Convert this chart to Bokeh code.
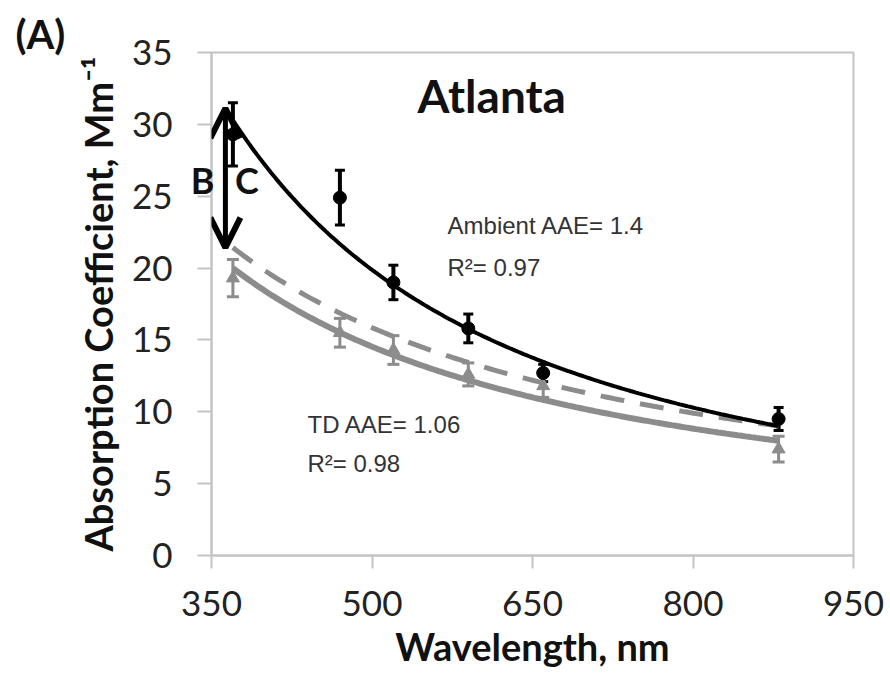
import numpy as np
from bokeh.plotting import figure
from bokeh.models import (Range1d, FixedTicker, Whisker, TeeHead, ColumnDataSource,
                          Label, Arrow, OpenHead)
from bokeh.embed import file_html
from bokeh.resources import INLINE

# ---- data ----
wavelength = [370, 470, 520, 590, 660, 880]
ambient = [29.3, 24.9, 19.0, 15.8, 12.7, 9.5]
ambient_err = [2.2, 1.9, 1.2, 1.0, 0.6, 0.8]
td = [19.3, 15.5, 14.3, 12.6, 11.8, 7.4]
td_err = [1.3, 1.0, 1.0, 0.8, 0.8, 0.9]

ambient_aae = 1.4      # power-law fit  b = b370 * (lam/370)^-AAE
ambient_b370 = 30.3
td_aae = 1.06
td_b370 = 20.0
bc_aae = 1.0           # dashed: AAE = 1 extrapolated from ambient fit at 880 nm

x_ticks = [350, 500, 650, 800, 950]
y_ticks = [0, 5, 10, 15, 20, 25, 30, 35]

BLACK = "#000000"
GREY = "#8c8c8c"
FRAME = "#c4c4c4"
TICK_FONT = "Lato"
TEXT_FONT = "Liberation Sans"

p = figure(width=890, height=674, output_backend="svg", toolbar_location=None,
           x_range=Range1d(350, 950), y_range=Range1d(0, 35),
           min_border_left=211, min_border_right=37, min_border_top=52,
           min_border_bottom=119)
p.background_fill_color = "white"
p.border_fill_color = "white"
p.outline_line_color = FRAME
p.outline_line_width = 2
p.xgrid.visible = False
p.ygrid.visible = False

# panel tag "(A)" as the plot title, shifted to the left edge
p.title.text = "(A)"
p.title.align = "left"
p.title.offset = -196
p.title.standoff = -10
p.title.text_font = TICK_FONT
p.title.text_font_size = "40px"
p.title.text_font_style = "bold"
p.title.text_color = "#111111"

for ax in (p.xaxis[0], p.yaxis[0]):
    ax.axis_line_color = FRAME
    ax.axis_line_width = 2
    ax.major_tick_line_color = FRAME
    ax.major_tick_line_width = 2
    ax.major_tick_in = 0
    ax.minor_tick_line_color = None
    ax.major_label_text_font = TICK_FONT
    ax.major_label_text_font_size = "35px"
    ax.major_label_text_color = "#222222"
    ax.axis_label_text_font = TICK_FONT
    ax.axis_label_text_font_style = "bold"
    ax.axis_label_text_font_size = "38px"
    ax.axis_label_text_color = "#111111"

p.xaxis.ticker = FixedTicker(ticks=x_ticks)
p.yaxis.ticker = FixedTicker(ticks=y_ticks)
p.xaxis.major_tick_out = 13
p.yaxis.major_tick_out = 14
p.xaxis.major_label_standoff = 22
p.yaxis.major_label_standoff = 25
p.xaxis.axis_label = "Wavelength, nm"
p.yaxis.axis_label = "Absorption Coefficient, Mm\u207b\u00b9"
p.xaxis.axis_label_standoff = 4
p.yaxis.axis_label_standoff = 8

# ---- fitted power-law curves ----
lam = np.linspace(min(wavelength), max(wavelength), 200)
amb_fit = ambient_b370 * (lam / 370.0) ** (-ambient_aae)
td_fit = td_b370 * (lam / 370.0) ** (-td_aae)
amb_880 = ambient_b370 * (880 / 370.0) ** (-ambient_aae)
bc_fit = amb_880 * (lam / 880.0) ** (-bc_aae)

p.line(lam, td_fit, line_color=GREY, line_width=6)
p.line(lam, bc_fit, line_color=GREY, line_width=5, line_dash="24 16")
p.line(lam, amb_fit, line_color=BLACK, line_width=4)

# ---- error bars and points ----
src_amb = ColumnDataSource(dict(x=wavelength, y=ambient,
                                lo=[v - e for v, e in zip(ambient, ambient_err)],
                                hi=[v + e for v, e in zip(ambient, ambient_err)]))
src_td = ColumnDataSource(dict(x=wavelength, y=td,
                               lo=[v - e for v, e in zip(td, td_err)],
                               hi=[v + e for v, e in zip(td, td_err)]))

p.add_layout(Whisker(source=src_td, base="x", lower="lo", upper="hi",
                     line_color=GREY, line_width=3,
                     lower_head=TeeHead(size=12, line_color=GREY, line_width=3),
                     upper_head=TeeHead(size=12, line_color=GREY, line_width=3)))
p.scatter("x", "y", source=src_td, marker="triangle", size=13,
          fill_color=GREY, line_color=GREY)

p.add_layout(Whisker(source=src_amb, base="x", lower="lo", upper="hi",
                     line_color=BLACK, line_width=4,
                     lower_head=TeeHead(size=10, line_color=BLACK, line_width=3),
                     upper_head=TeeHead(size=10, line_color=BLACK, line_width=3)))
p.scatter("x", "y", source=src_amb, marker="circle", size=13,
          fill_color=BLACK, line_color=BLACK)

# ---- BrC arrow ----
arrow_x = 363
arrow_top = ambient_b370 * (arrow_x / 370.0) ** (-ambient_aae)
arrow_bottom = amb_880 * (370 / 880.0) ** (-bc_aae)
arrow_mid = (arrow_top + arrow_bottom) / 2
for y_end in (arrow_top, arrow_bottom):
    p.add_layout(Arrow(x_start=arrow_x, y_start=arrow_mid, x_end=arrow_x, y_end=y_end,
                       line_width=5, line_color=BLACK,
                       end=OpenHead(size=30, line_width=6, line_color=BLACK)))

def label(x, y, text, font, size, style="normal", align="left", baseline="alphabetic",
          color="#111111", place="center"):
    lab = Label(x=x, y=y, text=text, text_font=font, text_font_size=size,
                text_font_style=style, text_align=align, text_baseline=baseline,
                text_color=color)
    if place == "center":
        p.add_layout(lab)
    else:
        p.add_layout(lab, place)

# "B" straddles the y axis, so it is attached to the left panel (not clipped to the frame)
label(330.5, 26.1, "B", TICK_FONT, "36px", "bold", baseline="middle", place="left")
label(372.0, 26.1, "C", TICK_FONT, "36px", "bold", baseline="middle")
label(542.5, 32.0, "Atlanta", TICK_FONT, "46px", "bold")
label(570.6, 22.96, "Ambient  AAE= 1.4", TEXT_FONT, "24px", color="#333333")
label(570.6, 20.04, "R\u00b2= 0.97", TEXT_FONT, "24px", color="#333333")
label(439.7, 9.12, "TD AAE= 1.06", TEXT_FONT, "24px", color="#333333")
label(439.7, 6.4, "R\u00b2= 0.98", TEXT_FONT, "24px", color="#333333")

open("out.html", "w").write(file_html(p, INLINE))
